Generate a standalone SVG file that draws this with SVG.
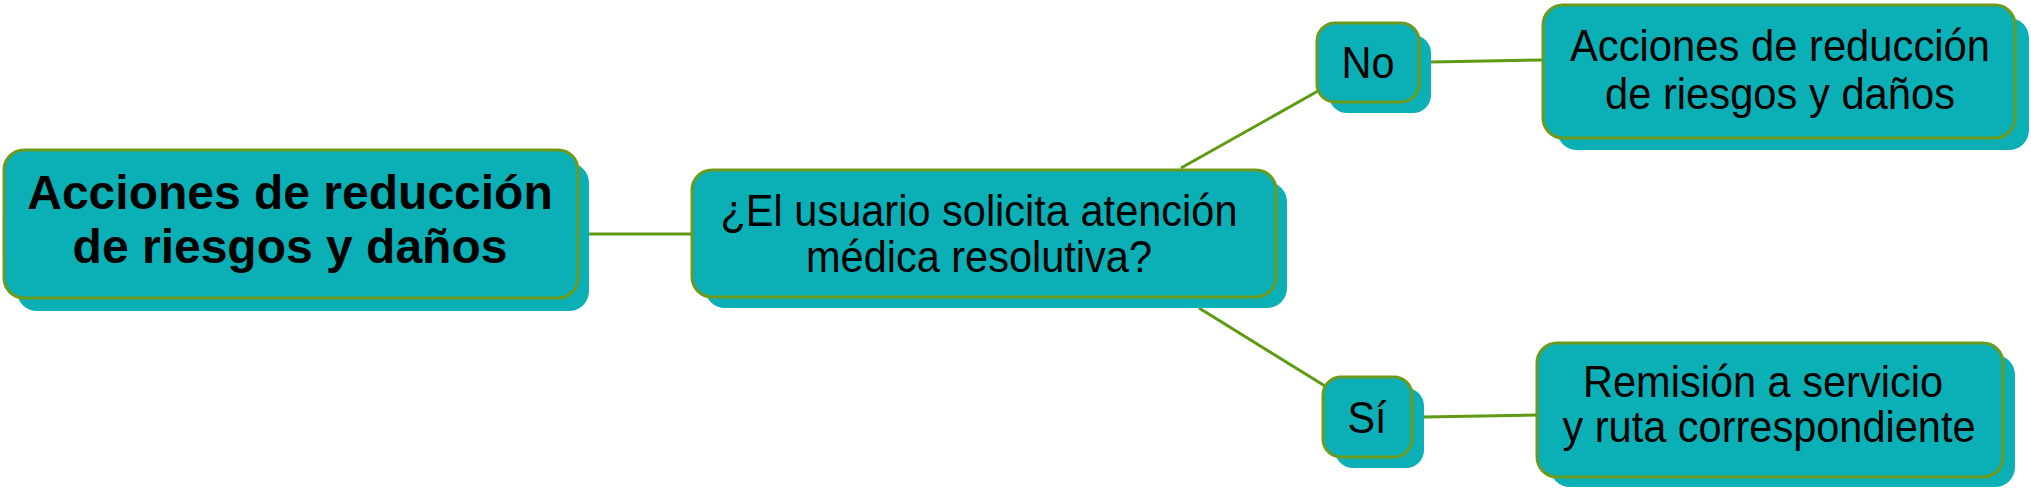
<svg xmlns="http://www.w3.org/2000/svg" width="2031" height="495" viewBox="0 0 2031 495">
<style>
.bg{fill:#ffffff}
.sh{fill:#0AB0B6}
.fr{fill:#0AB0B6;stroke:#6B9A1E;stroke-width:3}
.ln{stroke:#5E9A12;stroke-width:3;fill:none}
.t{font-family:"Liberation Sans",Arial,sans-serif;font-size:44px;fill:#000;text-anchor:middle}
.tb{font-family:"Liberation Sans",Arial,sans-serif;font-size:48px;font-weight:bold;fill:#000;text-anchor:middle}
</style>
<rect class="bg" x="0" y="0" width="2031" height="495"/>
<g id="connectors">
<line class="ln" x1="589" y1="234" x2="692" y2="234"/>
<line class="ln" x1="1181" y1="168" x2="1318" y2="91"/>
<line class="ln" x1="1199" y1="308" x2="1325" y2="386"/>
<line class="ln" x1="1431" y1="62" x2="1543" y2="60"/>
<line class="ln" x1="1424" y1="417" x2="1537" y2="415"/>
</g>
<g id="main">
<rect class="sh" x="17" y="163" width="572" height="148" rx="20"/>
<rect class="fr" x="4" y="150" width="574" height="148" rx="20"/>
<text class="tb" x="290" y="209">Acciones de reducción</text>
<text class="tb" x="290" y="263">de riesgos y daños</text>
</g>
<g id="question">
<rect class="sh" x="705" y="182" width="582" height="126" rx="20"/>
<rect class="fr" x="692" y="170" width="584" height="127" rx="20"/>
<text class="t" x="979" y="226" textLength="517" lengthAdjust="spacingAndGlyphs">¿El usuario solicita atención</text>
<text class="t" x="979" y="272" textLength="346" lengthAdjust="spacingAndGlyphs">médica resolutiva?</text>
</g>
<g id="no">
<rect class="sh" x="1329" y="35" width="102" height="78" rx="18"/>
<rect class="fr" x="1317" y="23" width="102" height="79" rx="18"/>
<text class="t" x="1368" y="78" textLength="53" lengthAdjust="spacingAndGlyphs">No</text>
</g>
<g id="si">
<rect class="sh" x="1335" y="388" width="89" height="80" rx="18"/>
<rect class="fr" x="1323" y="377" width="89" height="80" rx="18"/>
<text class="t" x="1367" y="433" textLength="39" lengthAdjust="spacingAndGlyphs">Sí</text>
</g>
<g id="accionesNo">
<rect class="sh" x="1557" y="18" width="472" height="132" rx="20"/>
<rect class="fr" x="1543" y="5" width="472" height="133" rx="20"/>
<text class="t" x="1780" y="61" textLength="420" lengthAdjust="spacingAndGlyphs">Acciones de reducción</text>
<text class="t" x="1780" y="109" textLength="350" lengthAdjust="spacingAndGlyphs">de riesgos y daños</text>
</g>
<g id="remision">
<rect class="sh" x="1550" y="355" width="465" height="132" rx="20"/>
<rect class="fr" x="1537" y="343" width="466" height="134" rx="20"/>
<text class="t" x="1763" y="397" textLength="360" lengthAdjust="spacingAndGlyphs">Remisión a servicio</text>
<text class="t" x="1769" y="442" textLength="413" lengthAdjust="spacingAndGlyphs">y ruta correspondiente</text>
</g>
</svg>
